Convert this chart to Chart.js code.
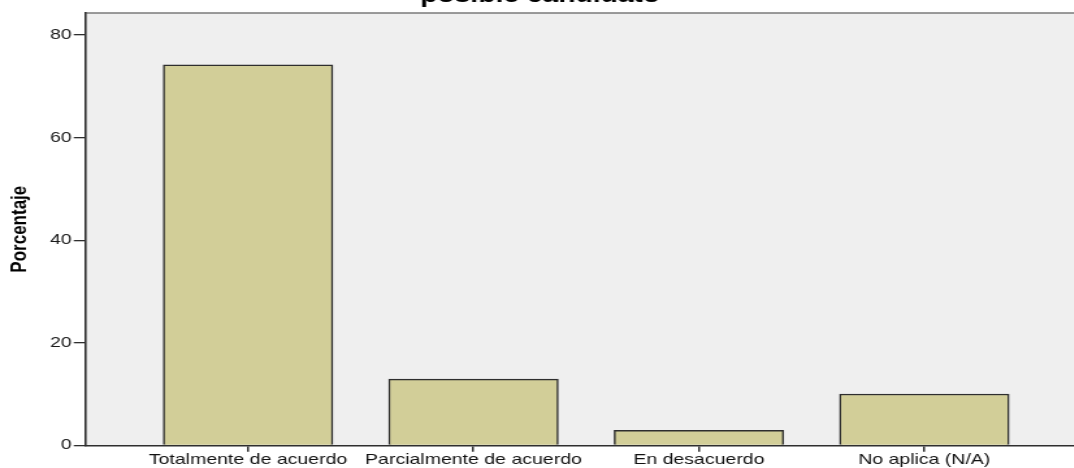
<!DOCTYPE html>
<html>
<head>
<meta charset="utf-8">
<script src="https://cdn.jsdelivr.net/npm/chart.js@4"></script>
<style>
  html, body { margin: 0; padding: 0; background: #ffffff; }
  #wrap { width: 1074px; height: 468px; overflow: hidden; position: relative; }
  #inner { width: 831px; height: 468px; transform: scaleX(1.3); transform-origin: 0 0; }
  canvas { display: block; }
</style>
</head>
<body>
<div id="wrap"><div id="inner"><canvas id="c" width="831" height="468"></canvas></div></div>
<script>
const categories = ["Totalmente de acuerdo", "Parcialmente de acuerdo", "En desacuerdo", "No aplica (N/A)"];
const percentages = [74.2, 12.9, 2.9, 10.0];
const yTicks = [0, 20, 40, 60, 80];
const titleText = "posible candidato";
const yAxisTitle = "Porcentaje";

const FONT = "'Liberation Sans', Arial, sans-serif";

const plotBg = {
  id: 'plotBg',
  beforeDraw(chart) {
    const { ctx, chartArea: a } = chart;
    ctx.save();
    ctx.fillStyle = '#efefef';
    ctx.fillRect(a.left, a.top, a.right - a.left, a.bottom - a.top);
    ctx.strokeStyle = '#7a7a7a';
    ctx.lineWidth = 1.6;
    ctx.beginPath();
    ctx.moveTo(a.left, a.top);
    ctx.lineTo(a.right, a.top);
    ctx.stroke();
    ctx.restore();
  }
};

new Chart(document.getElementById('c'), {
  type: 'bar',
  data: {
    datasets: [{
      data: percentages.map((v, i) => ({ x: i, y: v })),
      backgroundColor: '#d2ce98',
      borderColor: '#2e2e2e',
      borderWidth: 1.5,
      barThickness: 130.4
    }]
  },
  options: {
    responsive: false,
    animation: false,
    devicePixelRatio: 1,
    layout: { padding: 0 },
    plugins: {
      legend: { display: false },
      tooltip: { enabled: false },
      title: {
        display: true,
        text: titleText,
        color: '#000000',
        font: { family: FONT, size: 21.7, weight: 'bold', lineHeight: 1.2 },
        padding: { top: -16.5, bottom: 3.5 }
      }
    },
    scales: {
      x: {
        type: 'linear',
        offset: false,
        min: -0.7186,
        max: 3.692,
        afterBuildTicks(scale) { scale.ticks = categories.map((c, i) => ({ value: i })); },
        afterFit(scale) { scale.height = 22.7; },
        grid: { display: true, offset: false, drawOnChartArea: false, drawTicks: true, tickLength: 6.5, color: '#2e2e2e', lineWidth: 1.5 },
        border: { display: true, color: '#2e2e2e', width: 1.6 },
        ticks: {
          autoSkip: false, maxRotation: 0, minRotation: 0, padding: -1,
          color: '#111111',
          font: { family: FONT, size: 15 },
          callback: (v) => categories[v]
        }
      },
      y: {
        min: 0,
        max: 84.3,
        afterBuildTicks(scale) { scale.ticks = yTicks.map(v => ({ value: v })); },
        afterFit(scale) { scale.width = 66.2; },
        grid: { display: true, drawOnChartArea: false, drawTicks: true, tickLength: 9.5, color: '#2e2e2e', lineWidth: 1.3 },
        border: { display: true, color: '#2e2e2e', width: 1.6 },
        ticks: { padding: 1.5, color: '#1a1a1a', font: { family: FONT, size: 15 } },
        title: {
          display: true,
          text: yAxisTitle,
          color: '#000000',
          font: { family: FONT, size: 17, weight: 'bold', lineHeight: 1.2 },
          padding: { top: 5.2, bottom: 0 }
        }
      }
    }
  },
  plugins: [plotBg]
});
</script>
</body>
</html>
